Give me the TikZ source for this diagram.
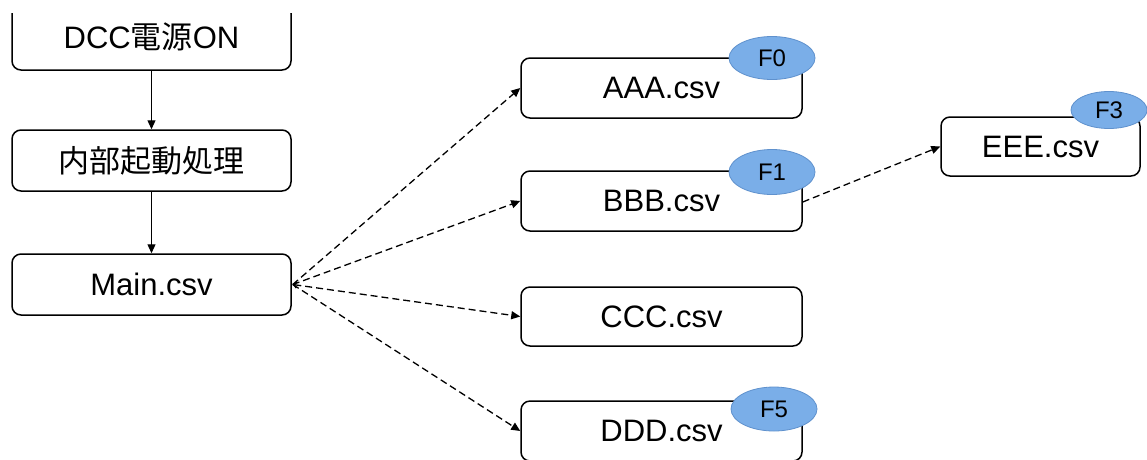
\documentclass[tikz,border=0pt]{standalone}
\usepackage{fontspec}
\setmainfont{Liberation Sans}
\newfontfamily\jp{Noto Sans CJK JP}
\usetikzlibrary{arrows.meta,shapes.geometric}
\definecolor{ellfill}{RGB}{122,174,232}
\definecolor{elldraw}{RGB}{95,145,205}
\begin{document}
\begin{tikzpicture}[x=1pt,y=-1pt,
  box/.style={draw=black,line width=1.5pt,rounded corners=9pt,inner sep=0pt,
    minimum width=281pt,minimum height=60pt,font=\fontsize{31pt}{35pt}\selectfont},
  tag/.style={ellipse,draw=elldraw,line width=0.8pt,fill=ellfill,inner sep=0pt,
    minimum width=86pt,minimum height=44pt,font=\fontsize{24pt}{27pt}\selectfont},
  solidarr/.style={line width=1.2pt,-{Triangle[length=9pt,width=8pt]}},
  dasharr/.style={line width=1.3pt,dash pattern=on 7pt off 4pt,-{Triangle[length=9pt,width=8pt]}}]
\clip (0,0) rectangle (1147,459);
\useasboundingbox (0,0) rectangle (1147,459);
\fill[white] (0,0) rectangle (1147,459);
% left column
\node[box,minimum width=279pt,minimum height=66pt] (dcc) at (151.5,37) {DCC{\jp 電源}ON};
\node[box,minimum width=279pt,minimum height=61pt] (naibu) at (151.5,160.5) {\jp 内部起動処理};
\node[box,minimum width=279pt,minimum height=61pt] (main) at (151.5,284.5) {Main.csv};
% right column
\node[box] (aaa) at (661.5,88) {AAA.csv};
\node[box] (bbb) at (661.5,201) {BBB.csv};
\node[box,minimum height=59pt] (ccc) at (661.5,316.5) {CCC.csv};
\node[box] (ddd) at (661.5,431) {DDD.csv};
\node[box,minimum width=199pt,minimum height=59pt] (eee) at (1040.5,146.5) {EEE.csv};
% tags
\node[tag,minimum height=43pt] (f0) at (772,58) {F0};
\node[tag,minimum height=45pt] (f1) at (772,172) {F1};
\node[tag,minimum width=76pt,minimum height=37pt] (f3) at (1109,110) {F3};
\node[tag] (f5) at (774,409) {F5};
% connectors
\draw[solidarr] (dcc) -- (naibu);
\draw[solidarr] (naibu) -- (main);
\coordinate (mo) at ([xshift=1pt]main.east);
\draw[dasharr] (mo) -- (aaa.west);
\draw[dasharr] (mo) -- (bbb.west);
\draw[dasharr,{Straight Barb[length=3pt,width=6pt]}-{Triangle[length=9pt,width=8pt]}] (mo) -- (ccc.west);
\draw[dasharr] (mo) -- (ddd.west);
\coordinate (bo) at ([yshift=-1pt]bbb.east);
\draw[dasharr] (bo) -- (eee.west);
% the reference is cut off along its top edge
\fill[white] (0,0) rectangle (1147,13);
\end{tikzpicture}
\end{document}
